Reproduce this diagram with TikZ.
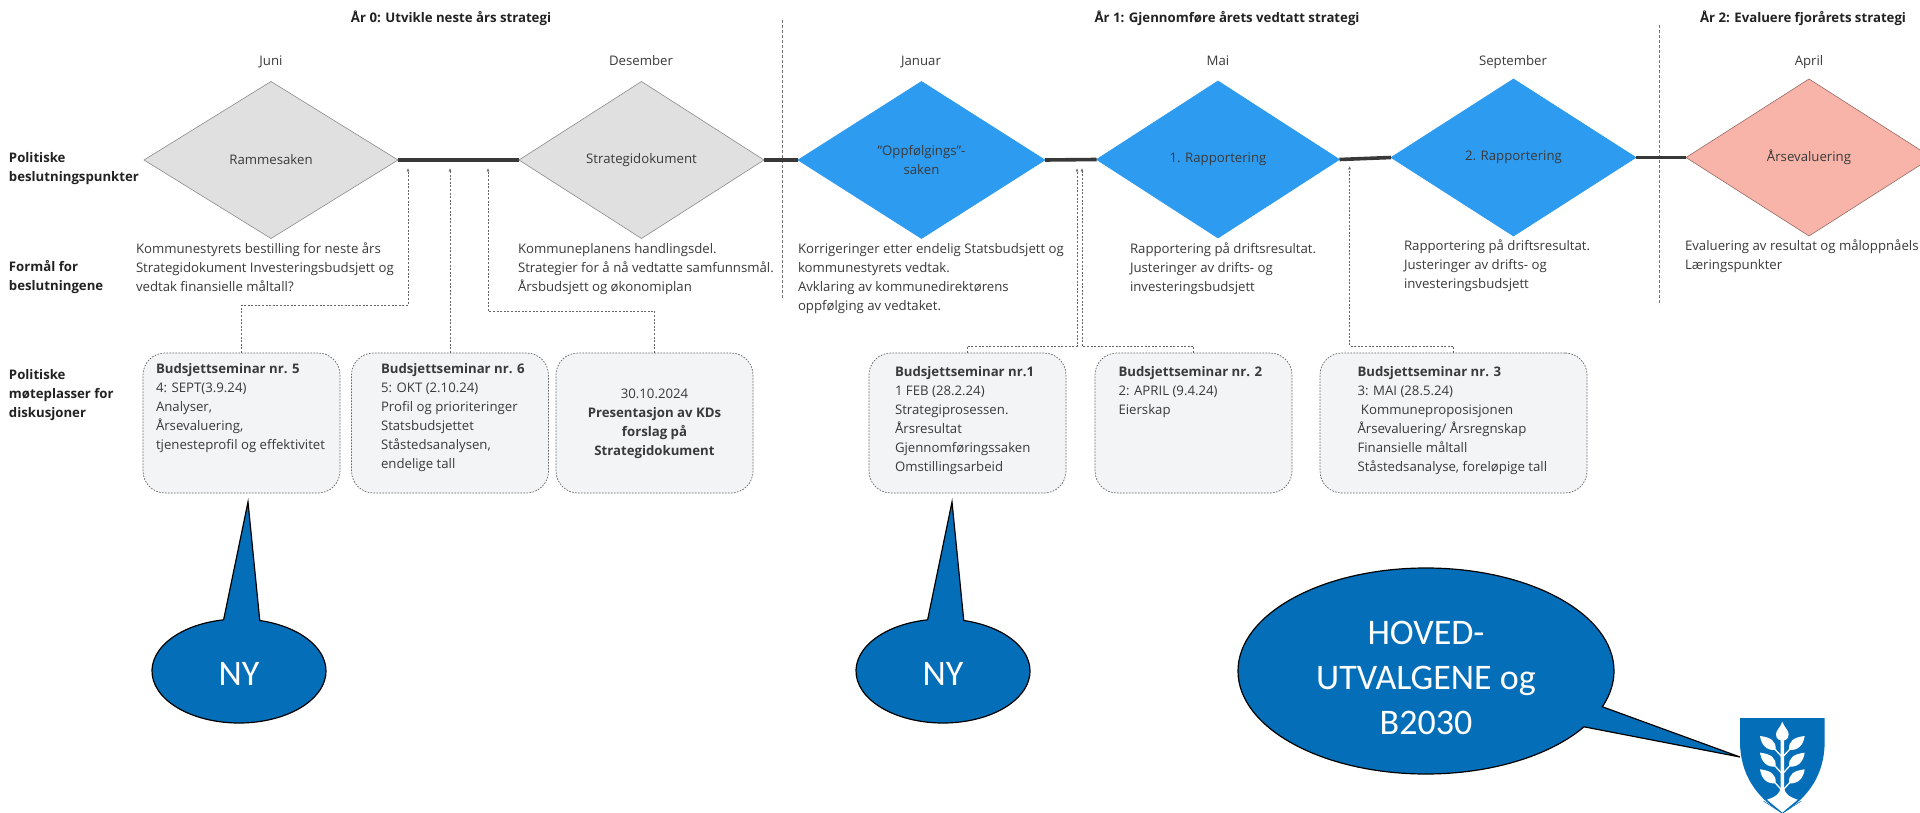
\documentclass[tikz,border=0pt]{standalone}
\usepackage{fontspec}
\setmainfont{Open Sans}
\newfontfamily\callfont{Carlito}
\usetikzlibrary{shapes.geometric,shapes.callouts,arrows.meta}
\definecolor{txt}{HTML}{3A3A3A}
\definecolor{hd}{HTML}{222222}
\definecolor{dgray}{HTML}{E0E0E0}
\definecolor{dblue}{HTML}{2D9BF0}
\definecolor{dsalmon}{HTML}{F8B4A8}
\definecolor{boxfill}{HTML}{F3F4F6}
\definecolor{callblue}{HTML}{046EB8}
\newcommand{\bodyfont}{\fontsize{13.2}{19}\selectfont}
\tikzset{
  txtnode/.style={inner sep=0,outer sep=0,text=txt,font=\bodyfont,align=left,anchor=north west},
  head/.style={inner sep=0,text=hd,font=\bodyfont\bfseries,text height=10pt,text depth=3pt},
  side/.style={inner sep=0,outer sep=0,text=hd,font=\bodyfont\bfseries,align=left,anchor=north west},
  month/.style={inner sep=0,text=txt,font=\bodyfont,text height=10pt,text depth=3pt},
  dia/.style={diamond,draw=#1,inner sep=0,outer sep=0,minimum width=247,minimum height=157,text=txt,font=\bodyfont,align=center,line width=.6pt},
  tl/.style={line width=3.6pt,draw=black!78},
  yearsep/.style={draw=black!55,line width=.5pt,dash pattern=on 3pt off 2pt},
  seminar/.style={rectangle,rounded corners=22pt,draw=black!60,fill=boxfill,line width=.7pt,dash pattern=on 1.6pt off 1.4pt,inner sep=0,outer sep=0,anchor=north west},
  conn/.style={draw=black!60,line width=.7pt,dash pattern=on 2pt off 1.6pt,-{Latex[length=3.5pt,width=3pt,sep=0pt]}},
  bub/.style={ellipse callout,draw=black,fill=callblue,line width=1.2pt,inner sep=0,text=white,align=center,font=\callfont\fontsize{36}{45}\selectfont},
}
\begin{document}
\begin{tikzpicture}[x=1pt,y=-1pt]
\clip (0,0) rectangle (1920,813);
\fill[white] (0,0) rectangle (1920,813);

% year separators
\coordinate (s1a) at (782,20); \coordinate (s1b) at (782,300);
\coordinate (s2a) at (1659,25); \coordinate (s2b) at (1659,305);
\draw[yearsep] (s1a) -- (s1b);
\draw[yearsep] (s2a) -- (s2b);

% headings
\node[head] (h0) at (451,19) {År 0: Utvikle neste års strategi};
\node[head] (h1) at (1227,19) {År 1: Gjennomføre årets vedtatt strategi};
\node[head] (h2) at (1803,19) {År 2: Evaluere fjorårets strategi};

% months
\node[month] (m1) at (271,62.5) {Juni};
\node[month] (m2) at (641,62.5) {Desember};
\node[month] (m3) at (921,62.5) {Januar};
\node[month] (m4) at (1218,62.5) {Mai};
\node[month] (m5) at (1513,62.5) {September};
\node[month] (m6) at (1809,62.5) {April};

% diamonds
\node[dia=black!45,fill=dgray,minimum width=254] (d1) at (271,160) {Rammesaken};
\node[dia=black!45,fill=dgray,minimum width=245] (d2) at (641.5,160) {Strategidokument};
\node[dia=dblue,fill=dblue] (d3) at (921.5,160) {"Oppfølgings"-\\saken};
\node[dia=dblue,fill=dblue,minimum width=243] (d4) at (1218,159.5) {1. Rapportering};
\node[dia=dblue,fill=dblue,minimum width=245] (d5) at (1513.5,157.5) {2. Rapportering};
\node[dia=black!40!dsalmon,fill=dsalmon,minimum width=246] (d6) at (1809,157.5) {Årsevaluering};

% timeline
\draw[tl] (d1.east) -- (d2.west);
\draw[tl] (d2.east) -- (d3.west);
\draw[tl] (d3.east) -- (d4.west);
\draw[tl] (d4.east) -- (d5.west);
\draw[tl] (d5.east) -- (d6.west);

% side labels
\node[side] (l1) at (9,152.5) {Politiske\\beslutningspunkter};
\node[side] (l2) at (9,260.5) {Formål for\\beslutningene};
\node[side] (l3) at (9,369.5) {Politiske\\møteplasser for\\diskusjoner};

% descriptions
\node[txtnode] (t1) at (136,243) {Kommunestyrets bestilling for neste års\\Strategidokument Investeringsbudsjett og\\vedtak finansielle måltall?};
\node[txtnode] (t2) at (518,243) {Kommuneplanens handlingsdel.\\Strategier for å nå vedtatte samfunnsmål.\\Årsbudsjett og økonomiplan};
\node[txtnode] (t3) at (798,243) {Korrigeringer etter endelig Statsbudsjett og\\kommunestyrets vedtak.\\Avklaring av kommunedirektørens\\oppfølging av vedtaket.};
\node[txtnode] (t4) at (1130,243) {Rapportering på driftsresultat.\\Justeringer av drifts- og\\investeringsbudsjett};
\node[txtnode] (t5) at (1404,239.5) {Rapportering på driftsresultat.\\Justeringer av drifts- og\\investeringsbudsjett};
\node[txtnode] (t6) at (1685,239.5) {Evaluering av resultat og måloppnåels\\Læringspunkter};

% seminar boxes
\node[seminar,minimum width=197,minimum height=140] (b1) at (143,353) {};
\node[seminar,minimum width=197,minimum height=140] (b2) at (351.5,353) {};
\node[seminar,minimum width=197,minimum height=140] (b3) at (556,353) {};
\node[seminar,minimum width=197,minimum height=140] (b4) at (869,353) {};
\node[seminar,minimum width=197,minimum height=140] (b5) at (1095,353) {};
\node[seminar,minimum width=267,minimum height=140] (b6) at (1320,353) {};

\node[txtnode] (bt1) at (156,363) {\textbf{Budsjettseminar nr. 5}\\4: SEPT(3.9.24)\\Analyser,\\Årsevaluering,\\tjenesteprofil og effektivitet};
\node[txtnode] (bt2) at (381,363) {\textbf{Budsjettseminar nr. 6}\\5: OKT (2.10.24)\\Profil og prioriteringer\\Statsbudsjettet\\Ståstedsanalysen,\\endelige tall};
\node[txtnode,anchor=north,align=center] (bt3) at (654.5,389) {30.10.2024\\\textbf{Presentasjon av KDs}\\\textbf{forslag på}\\\textbf{Strategidokument}};
\node[txtnode] (bt4) at (895,366.5) {\textbf{Budsjettseminar nr.1}\\1 FEB (28.2.24)\\Strategiprosessen.\\Årsresultat\\Gjennomføringssaken\\Omstillingsarbeid};
\node[txtnode] (bt5) at (1118.5,366.5) {\textbf{Budsjettseminar nr. 2}\\2: APRIL (9.4.24)\\Eierskap};
\node[txtnode] (bt6) at (1357.5,366.5) {\textbf{Budsjettseminar nr. 3}\\3: MAI (28.5.24)\\\ Kommuneproposisjonen\\Årsevaluering/ Årsregnskap\\Finansielle måltall\\Ståstedsanalyse, foreløpige tall};

% connector targets under the timeline
\coordinate (a1) at (408,168);
\coordinate (a2) at (450,168);
\coordinate (a3) at (488,168);
\coordinate (a4) at (1077,168);
\coordinate (a5) at (1082,168);
\coordinate (a6) at (1349.5,166);
\draw[conn] (b1.north) -- ++(0,-48) -| (a1);
\draw[conn] (b2.north) -- (b2.north |- a2);
\draw[conn] (b3.north) -- ++(0,-42) -| (a3);
\draw[conn] (b4.north) -- ++(0,-7) -| (a4);
\draw[conn] (b5.north) -- ++(0,-7) -| (a5);
\draw[conn] (b6.north) -- ++(0,-7) -| (a6);

% speech bubbles
\coordinate (p1) at (248,502);
\coordinate (p2) at (952,502);
\coordinate (p3) at (1740,757);
\node[bub,minimum width=174,minimum height=104,callout absolute pointer={(p1)},callout pointer arc=24] (n1) at (239,671) {\rule{0pt}{29pt}NY};
\node[bub,minimum width=174,minimum height=104,callout absolute pointer={(p2)},callout pointer arc=24] (n2) at (943,671) {\rule{0pt}{29pt}NY};
\node[bub,minimum width=376,minimum height=206,callout absolute pointer={(p3)},callout pointer arc=12.5] (n3) at (1426,671) {\rule{0pt}{37pt}HOVED-\\UTVALGENE og\\B2030};

% coat of arms
\begin{scope}[shift={(1720,700)},xscale=1/3,yscale=1/3]
\fill[callblue] (60,54) -- (314,54) -- (314,130) .. controls (312,220) and (270,290) .. (187,340) .. controls (105,290) and (62,220) .. (60,130) -- cycle;
\fill[white] (187,65) .. controls (180,85) and (168,90) .. (168,103) .. controls (168,118) and (180,122) .. (187,122) .. controls (194,122) and (206,118) .. (206,103) .. controls (206,90) and (194,85) .. (187,65) -- cycle;
\foreach \dy in {0,50,100}{
  \fill[white] (254,108+\dy) .. controls (222,112+\dy) and (205,122+\dy) .. (207,150+\dy) .. controls (235,152+\dy) and (250,135+\dy) .. (254,108+\dy) -- cycle;
  \fill[white] (120,108+\dy) .. controls (152,112+\dy) and (169,122+\dy) .. (167,150+\dy) .. controls (139,152+\dy) and (124,135+\dy) .. (120,108+\dy) -- cycle;
  \draw[white,line width=1.3pt] (187,172+\dy) -- (209,148+\dy);
  \draw[white,line width=1.3pt] (187,172+\dy) -- (165,148+\dy);
}
\fill[white] (182,115) -- (192,115) -- (192,262) .. controls (194,280) and (205,290) .. (233,299) -- (190,335) -- (187,338) -- (184,335) -- (141,299) .. controls (169,290) and (180,280) .. (182,262) -- cycle;
\draw[callblue,line width=.5pt] (130,303) -- (187,340) -- (244,303);
\end{scope}
\end{tikzpicture}
\end{document}
